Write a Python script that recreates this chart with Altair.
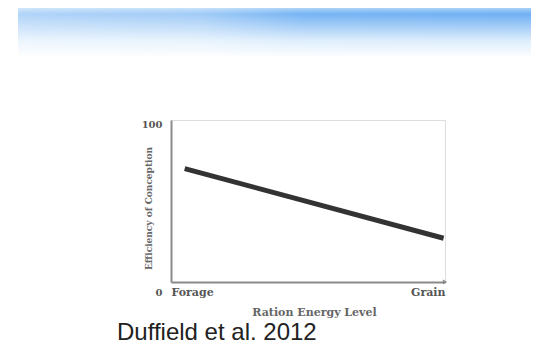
import altair as alt
import pandas as pd

# data
ration = [0.05, 0.995]          # Forage .. Grain (fraction of axis)
conception = [70, 27]           # efficiency of conception (0-100)
x_labels = ["Forage", "Grain"]
y_ticks = [0, 100]
citation = ["Duffield et al. 2012"]

df = pd.DataFrame({"ration": ration, "conception": conception})

W, H = 274, 162

xscale = alt.Scale(domain=[0, 1], nice=False, zero=False)
yscale = alt.Scale(domain=[0, 100], nice=False)

serif = "DejaVu Serif"
one = pd.DataFrame({"a": [0]})

banner = alt.Chart(one).mark_rect(
    color=alt.Gradient(
        gradient="linear",
        stops=[
            alt.GradientStop(color="#a9d1f7", offset=0),
            alt.GradientStop(color="#6fb0f3", offset=0.12),
            alt.GradientStop(color="#9fcaf6", offset=0.35),
            alt.GradientStop(color="#dcedfc", offset=0.65),
            alt.GradientStop(color="#ffffff", offset=1),
        ],
        x1=0, x2=0, y1=0, y2=1,
    )
).encode(
    x=alt.value(-153), x2=alt.value(362),
    y=alt.value(-112), y2=alt.value(-62),
)

haze = alt.Chart(one).mark_rect(
    color=alt.Gradient(
        gradient="linear",
        stops=[
            alt.GradientStop(color="rgba(255,255,255,0.45)", offset=0),
            alt.GradientStop(color="rgba(255,255,255,0.35)", offset=0.35),
            alt.GradientStop(color="rgba(255,255,255,0.05)", offset=0.55),
            alt.GradientStop(color="rgba(255,255,255,0.0)", offset=1),
        ],
        x1=0, x2=1, y1=0, y2=0,
    )
).encode(
    x=alt.value(-153), x2=alt.value(362),
    y=alt.value(-112), y2=alt.value(-62),
)

line = alt.Chart(df).mark_line(color="#333333", strokeWidth=5).encode(
    x=alt.X(
        "ration:Q",
        scale=xscale,
        axis=alt.Axis(
            values=[0, 1],
            labelExpr=f"datum.value == 0 ? '{x_labels[0]}' : '{x_labels[1]}'",
            labelFlush=True,
            labelFont=serif, labelFontWeight="bold", labelFontSize=11,
            labelColor="#555555", labelPadding=4,
            ticks=False, grid=False, domainColor="#8a8a8a", domainWidth=2,
            title="Ration Energy Level", titleFont=serif, titleFontWeight="bold",
            titleFontSize=11, titleColor="#666666", titlePadding=9,
            titleX=143,
        ),
    ),
    y=alt.Y(
        "conception:Q",
        scale=yscale,
        axis=alt.Axis(
            values=y_ticks,
            labelFont=serif, labelFontWeight="bold", labelFontSize=10,
            labelColor="#555555", labelPadding=9,
            labelOffset={"condition": {"test": "datum.value == 0", "value": 10}, "value": 4},
            ticks=False, grid=False, domainColor="#8a8a8a", domainWidth=2,
            title="Efficiency of Conception", titleFont=serif, titleFontWeight="bold",
            titleFontSize=9, titleColor="#666666",
            titleX=-23, titleY=88, titleAngle=270, titleBaseline="middle",
        ),
    ),
)

arrow = alt.Chart(pd.DataFrame({"x": [1], "y": [0]})).mark_point(
    shape="triangle-right", filled=True, color="#8a8a8a", size=25, opacity=1
).encode(x=alt.X("x:Q", scale=xscale), y=alt.Y("y:Q", scale=yscale))

cite = alt.Chart(pd.DataFrame({"t": citation})).mark_text(
    font="Liberation Sans", fontSize=24, color="#222222", align="left", baseline="alphabetic"
).encode(text="t:N", x=alt.value(-54), y=alt.value(220))

chart = alt.layer(banner, haze, line, arrow, cite).properties(
    width=W, height=H,
    autosize=alt.AutoSizeParams(type="none"),
    padding={"left": 163, "top": 112, "right": 86, "bottom": 63},
).configure_view(stroke=None).configure(background="white")

chart.save("out.html", embed_options={"renderer": "svg", "actions": False})
